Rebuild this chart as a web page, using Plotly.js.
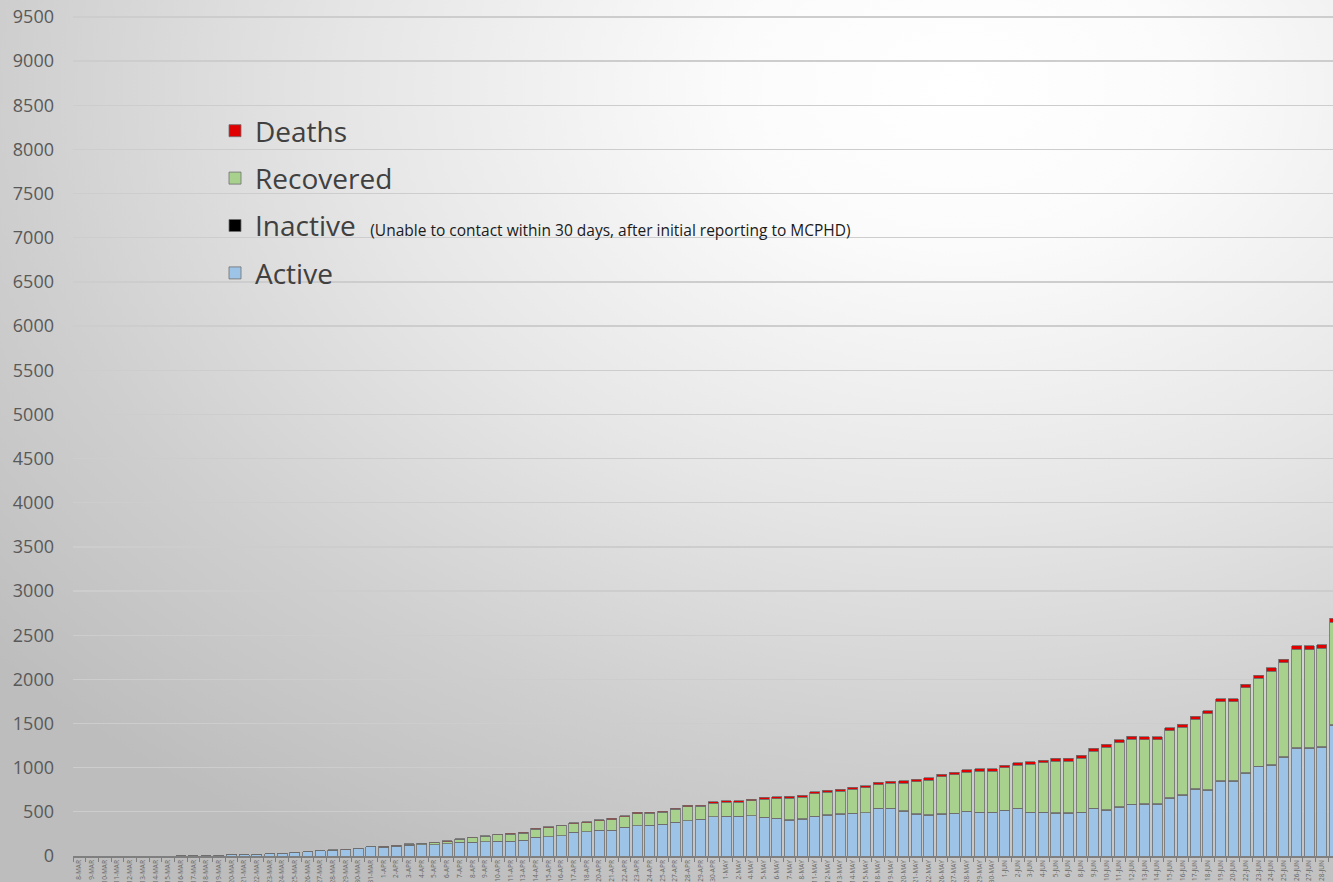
<!DOCTYPE html>
<html>
<head>
<meta charset="utf-8">
<script src="https://cdn.plot.ly/plotly-3.0.1.min.js"></script>
<style>
html,body{margin:0;padding:0;overflow:hidden;width:1333px;height:882px;}
#chart{width:1333px;height:882px;
background:radial-gradient(ellipse 95% 100% at 72% 10%, #ffffff 0%, #fbfbfb 18%, #e6e6e6 48%, #cfcfcf 75%, #bdbdbd 100%);}
</style>
</head>
<body>
<div id="chart"></div>
<script>
const dates = [
 '8-MAR','9-MAR','10-MAR','11-MAR','12-MAR','13-MAR','14-MAR','15-MAR','16-MAR','17-MAR','18-MAR','19-MAR',
 '20-MAR','21-MAR','22-MAR','23-MAR','24-MAR','25-MAR','26-MAR','27-MAR','28-MAR','29-MAR','30-MAR','31-MAR',
 '1-APR','2-APR','3-APR','4-APR','5-APR','6-APR','7-APR','8-APR','9-APR','10-APR','11-APR',
 '13-APR','14-APR','15-APR','16-APR','17-APR','18-APR','20-APR','21-APR','22-APR','23-APR','24-APR','25-APR',
 '27-APR','28-APR','29-APR','30-APR',
 '1-MAY','2-MAY','4-MAY','5-MAY','6-MAY','7-MAY','8-MAY','11-MAY','12-MAY','13-MAY','14-MAY','15-MAY',
 '18-MAY','19-MAY','20-MAY','21-MAY','22-MAY','26-MAY','27-MAY','28-MAY','29-MAY','30-MAY',
 '1-JUN','2-JUN','3-JUN','4-JUN','5-JUN','6-JUN','8-JUN','9-JUN','10-JUN','11-JUN','12-JUN','13-JUN','14-JUN',
 '15-JUN','16-JUN','17-JUN','18-JUN','19-JUN','20-JUN','22-JUN','23-JUN','24-JUN','25-JUN','26-JUN','27-JUN','28-JUN','29-JUN'
];

const active = [
 0,0,0,0,0,0,0,0,1,2,4,10,14,17,22,26,34,41,48,59,66,73,87,102,
 101,108,119,126,129,139,157,158,160,168,168,
 176,211,219,230,268,275,294,294,324,343,347,358,385,400,418,445,
 449,449,456,437,426,407,418,449,464,475,483,490,536,540,509,475,464,475,483,505,490,494,
 513,535,494,490,483,483,494,535,520,550,580,584,586,652,690,754,746,848,848,935,1010,1029,1116,1218,1218,1229,1478
];

const inactive = [
 0,0,0,0,0,0,0,0,0,0,0,0,0,0,0,0,0,0,0,0,0,0,0,0,
 0,0,0,0,0,0,0,0,0,0,0,
 0,0,0,0,0,0,0,0,0,0,0,0,0,0,0,0,
 0,0,1,1,1,1,1,2,2,2,2,2,2,2,3,3,3,3,3,3,3,3,
 4,4,4,4,4,4,4,4,5,5,5,5,5,5,5,5,5,6,6,6,6,6,6,6,6,6,7
];

const recovered = [
 0,0,0,0,0,0,0,0,0,0,0,0,0,0,0,0,0,0,0,0,0,0,0,0,
 4,8,12,16,20,25,32,46,62,73,79,
 83,92,103,110,98,101,105,119,119,137,137,136,143,157,143,153,
 160,159,169,206,223,245,249,254,257,257,270,278,269,279,314,363,392,419,432,440,466,462,
 483,488,539,562,587,587,609,647,706,727,737,730,728,759,763,789,857,893,893,964,994,1056,1067,1119,1114,1115,1164
];

const deaths = [
 0,0,0,0,0,0,0,0,0,0,0,0,0,0,0,0,0,0,1,1,2,2,3,3,
 4,4,5,5,6,6,7,7,8,8,9,
 9,10,10,11,11,12,12,13,13,14,14,15,15,16,16,17,
 17,18,19,20,21,22,22,23,23,24,25,25,26,26,26,26,27,27,28,28,29,29,
 29,29,30,30,31,31,32,32,32,33,33,33,33,35,35,35,36,36,36,37,37,39,39,40,40,40,41
];

const outline = {color:'#6e6e6e', width:0.8};
const traces = [
 {type:'bar', name:'Active', x:dates, y:active, marker:{color:'#9dc3e6', line:outline}, legendgroup:'a', legendrank:4},
 {type:'bar', name:'Inactive&nbsp; <span style="font-size:15.5px;color:#1a1a1a">(Unable to contact within 30 days, after initial reporting to MCPHD)</span>', x:dates, y:inactive, marker:{color:'#000000', line:outline}, legendgroup:'i', legendrank:3},
 {type:'bar', name:'Recovered', x:dates, y:recovered, marker:{color:'#a9d18e', line:outline}, legendgroup:'r', legendrank:2},
 {type:'bar', name:'Deaths', x:dates, y:deaths, marker:{color:'#e00000', line:outline}, legendgroup:'d', legendrank:1}
];

const plotW = 1333 - 73;
const catW = 12.68;
const layout = {
 width:1333, height:882,
 margin:{l:73, r:0, t:0, b:26, pad:0},
 paper_bgcolor:'rgba(0,0,0,0)', plot_bgcolor:'rgba(0,0,0,0)',
 barmode:'stack', bargap:0.21,
 font:{family:'Open Sans, sans-serif', color:'#595959'},
 showlegend:true,
 legend:{xref:'paper', yref:'paper', x:(215-73)/plotW, y:1-106/856, xanchor:'left', yanchor:'top',
   traceorder:'grouped', tracegroupgap:8, bgcolor:'rgba(0,0,0,0)',
   font:{family:'Open Sans, sans-serif', size:28, color:'#404040'}},
 xaxis:{type:'category', range:[-0.5, -0.5 + plotW/catW], tickson:'boundaries', ticks:'outside', ticklen:4,
   tickcolor:'#7f7f7f', showline:true, linecolor:'#7f7f7f', linewidth:1.5, showgrid:false,
   tickangle:-90, tickfont:{size:6.5, color:'#666666'}, tickmode:'array', tickvals:dates, ticktext:dates,
   automargin:false, fixedrange:true},
 yaxis:{range:[0, 856/0.08832], tick0:0, dtick:500, showgrid:true, gridcolor:'#cdcdcd', gridwidth:1.3,
   zeroline:false, showline:false, ticks:'', ticklabelstandoff:18,
   tickfont:{family:'Open Sans, sans-serif', size:18, color:'#595959'}, automargin:false, fixedrange:true}
};

Plotly.newPlot('chart', traces, layout, {displayModeBar:false, staticPlot:true});
</script>
</body>
</html>
